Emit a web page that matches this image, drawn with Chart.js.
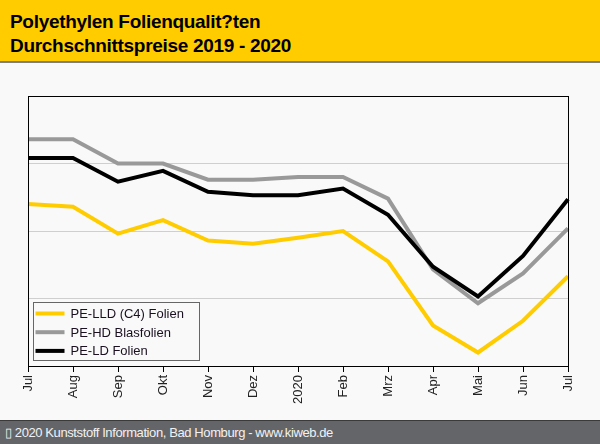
<!DOCTYPE html>
<html>
<head>
<meta charset="utf-8">
<script src="https://cdn.jsdelivr.net/npm/chart.js@4.4.0/dist/chart.umd.min.js"></script>
<style>
  html, body { margin: 0; padding: 0; }
  body { width: 600px; height: 444px; background: #f9f9f9; position: relative; overflow: hidden; font-family: 'Liberation Sans', Arial, sans-serif; }
  #head { position: absolute; left: 0; top: 0; width: 600px; height: 61px; background: #ffcc00; border-bottom: 2px solid #7f7f7f; z-index: 2; }
  #head div { position: absolute; left: 10px; top: 10px; font-weight: bold; font-size: 19px; letter-spacing: -0.3px; line-height: 24px; color: #000; }
  #foot { position: absolute; left: 0; top: 420px; width: 600px; height: 24px; background: #646569; border-top: 1px solid #3a3a3a; z-index: 2; }
  #foot div { position: absolute; left: 5px; top: 4px; font-size: 13px; letter-spacing: -0.4px; line-height: 16px; color: #f2f2f2; }
  #wrap { position: absolute; left: 0; top: 0; width: 600px; height: 444px; z-index: 1; }
</style>
</head>
<body>
<div id="head"><div>Polyethylen Folienqualit?ten<br>Durchschnittspreise 2019 - 2020</div></div>
<div id="wrap"><canvas id="chart" width="600" height="444"></canvas></div>
<div id="foot"><div>&#9647; 2020 Kunststoff Information, Bad Homburg - www.kiweb.de</div></div>
<script>
const months = ['Jul', 'Aug', 'Sep', 'Okt', 'Nov', 'Dez', '2020', 'Feb', 'Mrz', 'Apr', 'Mai', 'Jun', 'Jul'];
const seriesNames = ['PE-LLD (C4) Folien', 'PE-HD Blasfolien', 'PE-LD Folien'];
const seriesColors = ['#ffcc00', '#999999', '#000000'];
const lldFolien = [1040, 1036, 996, 1016, 986, 981, 990, 1000, 955, 860, 820, 867, 933];
const hdBlasfolien = [1136, 1136, 1100, 1100, 1076, 1076, 1080, 1080, 1048, 943, 893, 937, 1004];
const ldFolien = [1108, 1108, 1073, 1089, 1058, 1053, 1053, 1063, 1024, 947, 903, 963, 1047];
const yMin = 800;
const yMax = 1200;
const yStep = 100;

const seriesValues = [lldFolien, hdBlasfolien, ldFolien];

// frame around the plot and the boxed legend inside it
const framePlugin = {
  id: 'frame',
  afterDraw(chart) {
    const ctx = chart.ctx;
    const a = chart.chartArea;
    ctx.save();
    ctx.strokeStyle = '#000';
    ctx.lineWidth = 1;
    ctx.strokeRect(Math.round(a.left) + 0.5, Math.round(a.top) + 0.5, Math.round(a.right - a.left), Math.round(a.bottom - a.top));

    const bx = a.left + 5.5;
    const by = a.bottom - 63.5;
    ctx.fillStyle = '#f9f9f9';
    ctx.fillRect(bx, by, 166, 58);
    ctx.strokeStyle = '#666';
    ctx.strokeRect(bx, by, 166, 58);
    ctx.font = '13px "Liberation Sans", Arial, sans-serif';
    ctx.textBaseline = 'middle';
    seriesNames.forEach(function (name, i) {
      const y = by + 11 + i * 18.7;
      ctx.strokeStyle = seriesColors[i];
      ctx.lineWidth = 4;
      ctx.beginPath();
      ctx.moveTo(bx + 2, y);
      ctx.lineTo(bx + 31, y);
      ctx.stroke();
      ctx.fillStyle = '#1a1020';
      ctx.fillText(name, bx + 37, y + 1);
    });
    ctx.restore();
  },
};

const datasets = seriesValues.map(function (values, i) {
  return {
    label: seriesNames[i],
    data: values,
    borderColor: seriesColors[i],
    backgroundColor: seriesColors[i],
    borderWidth: 4,
    pointRadius: 0,
    tension: 0,
    fill: false,
    order: 2 - i,
  };
});

new Chart(document.getElementById('chart'), {
  type: 'line',
  data: { labels: months, datasets: datasets },
  plugins: [framePlugin],
  options: {
    responsive: false,
    animation: false,
    devicePixelRatio: 1,
    layout: { padding: { left: 28, top: 96, right: 32, bottom: 24 } },
    plugins: { legend: { display: false }, tooltip: { enabled: false } },
    scales: {
      x: {
        afterFit(scale) { scale.height = 54; },
        grid: { drawOnChartArea: false, drawTicks: true, tickLength: 6, tickColor: '#000', color: '#000' },
        border: { display: true, color: '#000' },
        ticks: {
          maxRotation: 90, minRotation: 90, autoSkip: false, padding: 3,
          color: '#222', font: { family: '"Liberation Sans", Arial, sans-serif', size: 13 },
        },
      },
      y: {
        min: yMin, max: yMax,
        afterFit(scale) { scale.width = 0; },
        grid: { color: '#cfcfcf', lineWidth: 1, drawTicks: false },
        border: { display: false },
        ticks: { display: false, stepSize: yStep },
      },
    },
  },
});
</script>
</body>
</html>
